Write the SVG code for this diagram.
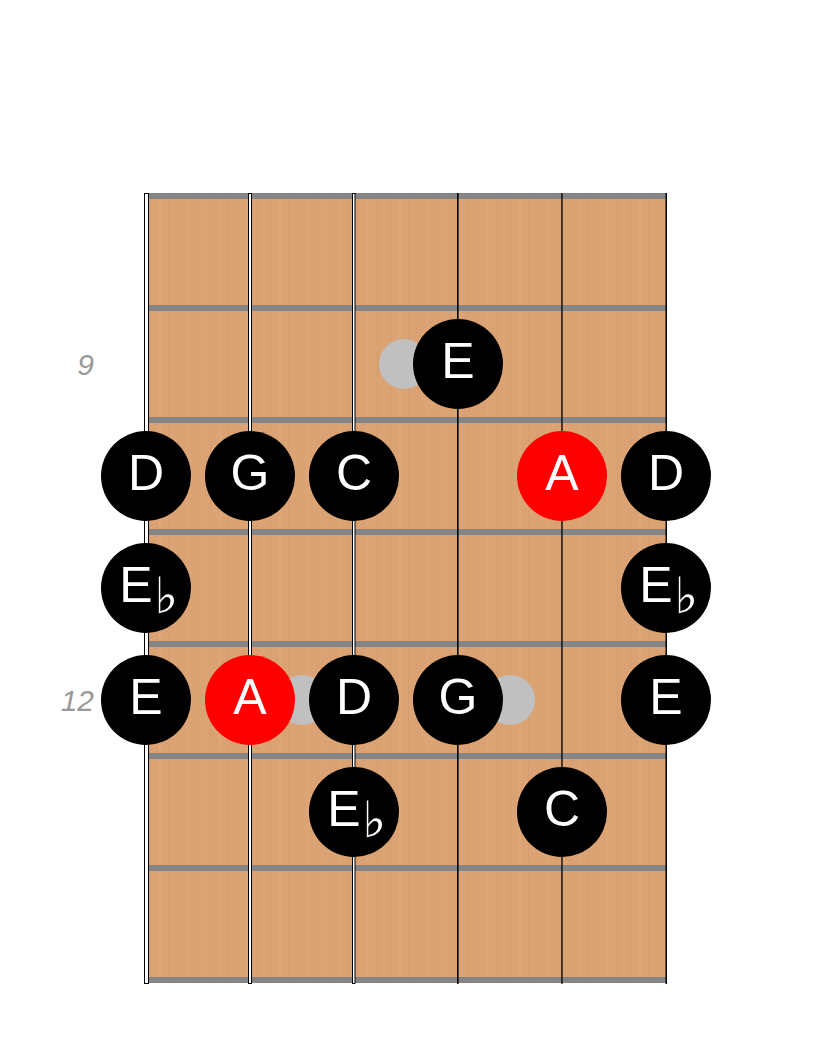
<svg xmlns="http://www.w3.org/2000/svg" width="816" height="1056" viewBox="0 0 816 1056">
<defs>
<pattern id="grain" x="146" y="0" width="60" height="1056" patternUnits="userSpaceOnUse">
<rect width="60" height="1056" fill="#dba273"/>
<rect x="4" width="1" height="1056" fill="#d09464" opacity="0.35"/>
<rect x="13" width="2" height="1056" fill="#e3ae80" opacity="0.4"/>
<rect x="22" width="1" height="1056" fill="#cc8f5f" opacity="0.3"/>
<rect x="31" width="1" height="1056" fill="#d49868" opacity="0.4"/>
<rect x="40" width="2" height="1056" fill="#e1ab7d" opacity="0.35"/>
<rect x="51" width="1" height="1056" fill="#cf9262" opacity="0.3"/>
</pattern>
</defs>
<style>
.fret{fill:#858585}
.str{fill:#fff;stroke:#000;stroke-width:1}
.inlay{fill:#c0c0c0}
.blk{fill:#000}
.red{fill:#ff0000}
.lbl{font-family:"Liberation Sans",Arial,sans-serif;font-size:50px;fill:#fff;text-anchor:middle}
.flat{font-family:"DejaVu Sans",sans-serif;font-size:50px;fill:#fff;text-anchor:middle}
.num{font-family:"Liberation Sans",Arial,sans-serif;font-size:30px;font-style:italic;fill:#999;text-anchor:end}
</style>
<g id="fretboard">
<rect x="146" y="196" width="520" height="784" fill="url(#grain)"/>
<g id="frets">
<rect class="fret" x="146" y="193" width="520" height="6"/>
<rect class="fret" x="146" y="305" width="520" height="6"/>
<rect class="fret" x="146" y="417" width="520" height="6"/>
<rect class="fret" x="146" y="529" width="520" height="6"/>
<rect class="fret" x="146" y="641" width="520" height="6"/>
<rect class="fret" x="146" y="753" width="520" height="6"/>
<rect class="fret" x="146" y="865" width="520" height="6"/>
<rect class="fret" x="146" y="977" width="520" height="6"/>
</g>
<g id="strings">
<rect class="str" x="144.5" y="193.5" width="4" height="790"/>
<rect class="str" x="248.5" y="193.5" width="3" height="790"/>
<rect class="str" x="352.5" y="193.5" width="2.5" height="790"/>
<rect x="457" y="193" width="1.6" height="791" fill="#000"/>
<rect x="561.3" y="193" width="1.3" height="791" fill="#000"/>
<rect x="665.5" y="193" width="1.5" height="791" fill="#000"/>
</g>
</g>
<g id="inlays">
<circle class="inlay" cx="404" cy="364" r="25"/>
<circle class="inlay" cx="302" cy="700" r="25"/>
<circle class="inlay" cx="510" cy="700" r="25"/>
</g>
<g id="fret-numbers">
<text class="num" x="94" y="375">9</text>
<text class="num" x="94" y="711">12</text>
</g>
<g id="connectors"/>
<g id="n-E9"><circle class="blk" cx="458" cy="364" r="45"/><text class="lbl" x="458" y="378">E</text></g>
<g id="n-D1"><circle class="blk" cx="146" cy="476" r="45"/><text class="lbl" x="146" y="490">D</text></g>
<g id="n-G1"><circle class="blk" cx="250" cy="476" r="45"/><text class="lbl" x="250" y="490">G</text></g>
<g id="n-C1"><circle class="blk" cx="354" cy="476" r="45"/><text class="lbl" x="354" y="490">C</text></g>
<g id="n-A1"><circle class="red" cx="562" cy="476" r="45"/><text class="lbl" x="562" y="490">A</text></g>
<g id="n-D2"><circle class="blk" cx="666" cy="476" r="45"/><text class="lbl" x="666" y="490">D</text></g>
<g id="n-Eb1"><circle class="blk" cx="146" cy="588" r="45"/><text class="lbl" x="136" y="602">E</text><text class="flat" x="166" y="613">♭</text></g>
<g id="n-Eb2"><circle class="blk" cx="666" cy="588" r="45"/><text class="lbl" x="656" y="602">E</text><text class="flat" x="686" y="613">♭</text></g>
<g id="n-E1"><circle class="blk" cx="146" cy="700" r="45"/><text class="lbl" x="146" y="714">E</text></g>
<g id="n-A2"><circle class="red" cx="250" cy="700" r="45"/><text class="lbl" x="250" y="714">A</text></g>
<g id="n-D3"><circle class="blk" cx="354" cy="700" r="45"/><text class="lbl" x="354" y="714">D</text></g>
<g id="n-G2"><circle class="blk" cx="458" cy="700" r="45"/><text class="lbl" x="458" y="714">G</text></g>
<g id="n-E2"><circle class="blk" cx="666" cy="700" r="45"/><text class="lbl" x="666" y="714">E</text></g>
<g id="n-Eb3"><circle class="blk" cx="354" cy="812" r="45"/><text class="lbl" x="344" y="826">E</text><text class="flat" x="374" y="837">♭</text></g>
<g id="n-C2"><circle class="blk" cx="562" cy="812" r="45"/><text class="lbl" x="562" y="826">C</text></g>
</svg>
